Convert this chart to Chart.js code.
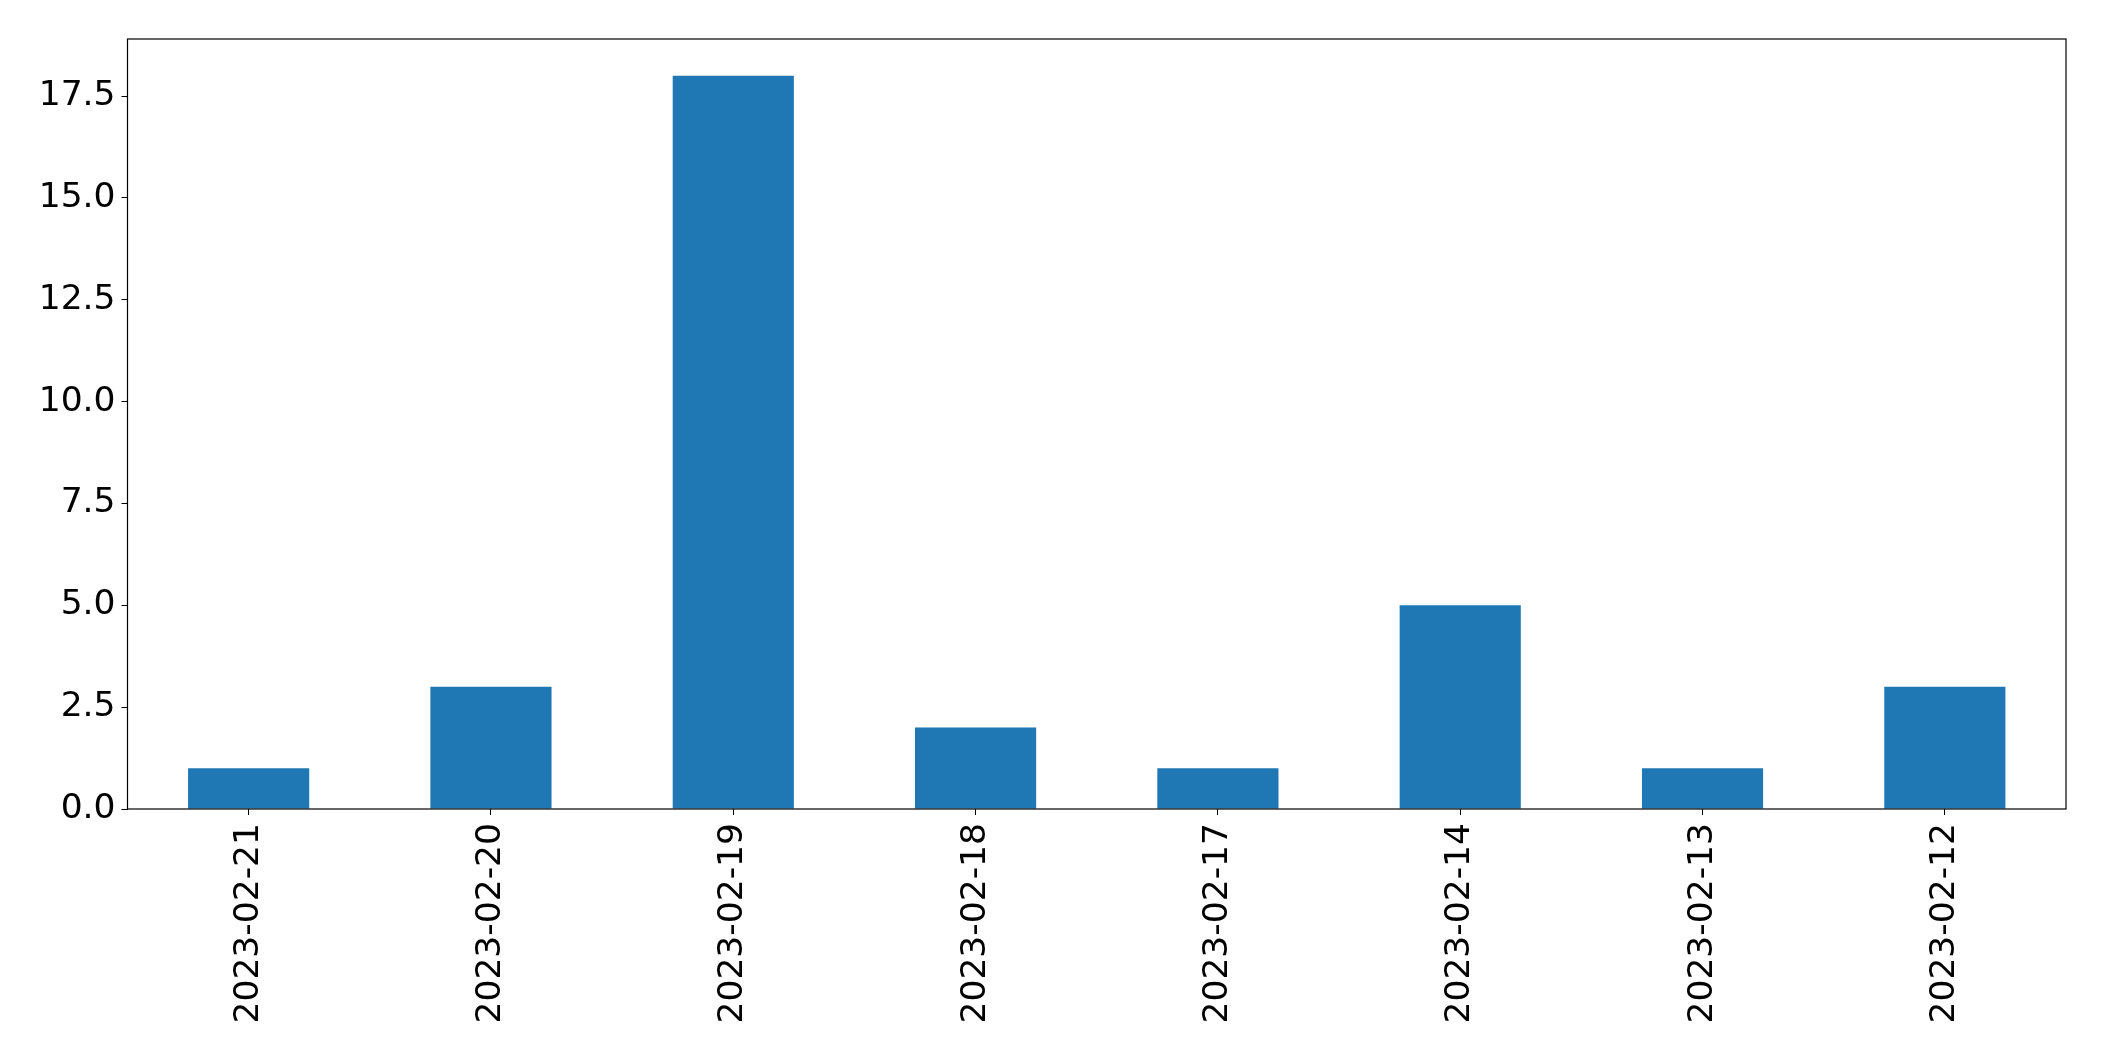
<!DOCTYPE html>
<html>
<head>
<meta charset="utf-8">
<script src="https://cdn.jsdelivr.net/npm/chart.js@4.4.1/dist/chart.umd.min.js"></script>
<style>
  html, body { margin: 0; padding: 0; background: #fff; }
  #wrap { width: 2104px; height: 1061px; }
</style>
</head>
<body>
<div id="wrap"><canvas id="myChart" width="2104" height="1061"></canvas></div>
<script>
const dates = ['2023-02-21', '2023-02-20', '2023-02-19', '2023-02-18', '2023-02-17', '2023-02-14', '2023-02-13', '2023-02-12'];
const counts = [1, 3, 18, 2, 1, 5, 1, 3];
const yTicks = [0, 2.5, 5, 7.5, 10, 12.5, 15, 17.5];

// frame round the plot area, like matplotlib's spines
const frame = {
  id: 'frame',
  afterDraw(chart) {
    const a = chart.chartArea;
    const c = chart.ctx;
    c.save();
    c.strokeStyle = '#000';
    c.lineWidth = 1.2;
    c.strokeRect(a.left, a.top, a.right - a.left, a.bottom - a.top);
    c.restore();
  }
};

const ctx = document.getElementById('myChart');
new Chart(ctx, {
  type: 'bar',
  data: {
    labels: dates,
    datasets: [{
      data: counts,
      backgroundColor: '#1f77b4',
      borderWidth: 0,
      categoryPercentage: 1.0,
      barPercentage: 0.5
    }]
  },
  options: {
    responsive: false,
    animation: false,
    layout: { padding: { top: 39, right: 38, left: 0, bottom: 0 } },
    plugins: { legend: { display: false }, tooltip: { enabled: false } },
    scales: {
      x: {
        offset: true,
        grid: { display: true, drawOnChartArea: false, tickLength: 6, color: '#000', offset: false },
        border: { display: false },
        ticks: {
          color: '#000',
          font: { family: 'DejaVu Sans', size: 34.5 },
          minRotation: 90,
          maxRotation: 90,
          padding: 8,
          autoSkip: false
        },
        afterFit(scale) { scale.height = 1061 - 809; }
      },
      y: {
        min: 0,
        max: 18.9,
        grid: { display: true, drawOnChartArea: false, tickLength: 6, color: '#000' },
        border: { display: false },
        afterBuildTicks(scale) { scale.ticks = yTicks.map(v => ({ value: v })); },
        ticks: {
          color: '#000',
          font: { family: 'DejaVu Sans', size: 34.5 },
          padding: 6,
          callback: v => Number(v).toFixed(1)
        },
        afterFit(scale) { scale.width = 127.5; }
      }
    }
  },
  plugins: [frame]
});
</script>
</body>
</html>
